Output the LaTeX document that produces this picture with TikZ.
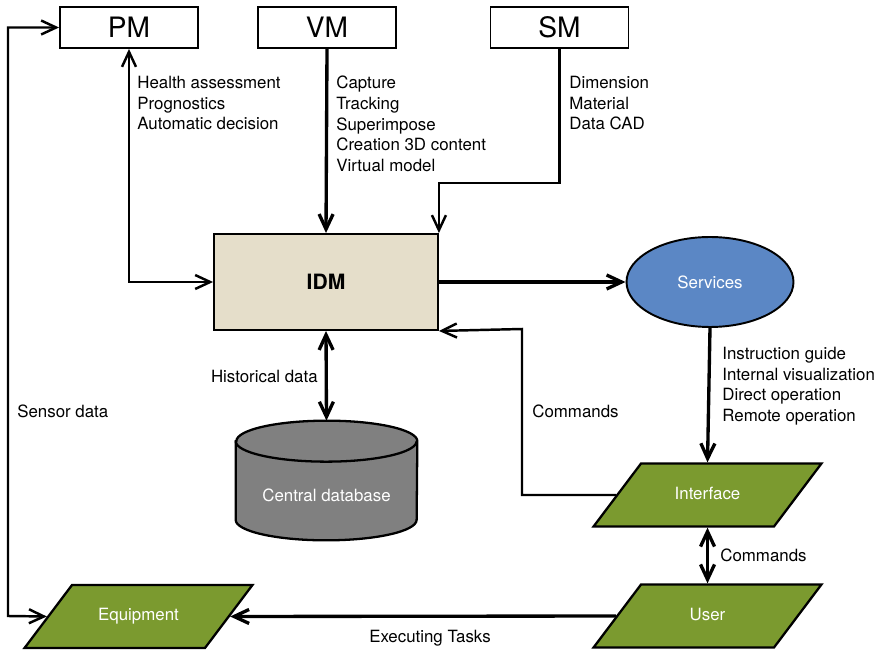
\documentclass[tikz,border=0pt]{standalone}
\usepackage{fontspec}
\setmainfont{TeX Gyre Heros}
\usetikzlibrary{arrows.meta, positioning, shapes.geometric, calc}

\definecolor{idmbeige}{HTML}{E5DECA}
\definecolor{servblue}{HTML}{5B87C5}
\definecolor{iogreen}{HTML}{7B9A2F}
\definecolor{dbgray}{HTML}{808080}

\begin{document}
\begin{tikzpicture}[
    x=0.02cm, y=-0.02cm,
    model/.style={draw, line width=1.1pt, minimum width=2.76cm, minimum height=0.82cm, inner sep=0pt, font=\fontsize{16}{18}\selectfont},
    core/.style={draw, line width=1.1pt, fill=idmbeige, minimum width=4.48cm, minimum height=1.92cm, font=\bfseries\fontsize{12}{14}\selectfont},
    service/.style={draw, ellipse, line width=1.1pt, fill=servblue, text=white, minimum width=3.34cm, minimum height=1.8cm, inner sep=0pt, font=\fontsize{9.6}{11.7}\selectfont},
    io/.style={draw, trapezium, trapezium left angle=53, trapezium right angle=127, line width=1.3pt, fill=iogreen, text=white, text width=1.8cm, align=center, text height=0.24cm, text depth=0.07cm, inner xsep=0.43cm, inner ysep=0.475cm, font=\fontsize{9.6}{11.7}\selectfont},
    store/.style={minimum width=3.62cm, minimum height=2.38cm, inner sep=0pt, text=white, font=\fontsize{9.6}{11.7}\selectfont},
    lbl/.style={inner sep=0pt, align=left, font=\fontsize{9.6}{11.7}\selectfont},
    arrow/.style={-{Straight Barb[length=3mm, width=2.8mm]}, line width=1.9pt},
    thin arrow/.style={-{Straight Barb[length=3mm, width=2.8mm]}, line width=1.4pt},
    both/.style={{Straight Barb[length=3mm, width=2.8mm]}-{Straight Barb[length=3mm, width=2.8mm]}},
]
\useasboundingbox (0,0) rectangle (882,651);

% Models
\node[model] (pm) at (129,27.5) {PM};
\node[model] (vm) at (327,27.5) {VM};
\node[model] (sm) at (559.5,27.5) {SM};

% Core and services
\node[core] (idm) at (326,282) {IDM};
\node[service] (services) at (710,282) {Services};

% Central database (cylinder)
\node[store] (db) at (326.5,480.5) {};
\draw[line width=1.3pt, fill=dbgray] ($(db.north west)+(0,20.5)$) -- ($(db.south west)+(0,-20.5)$)
    arc[start angle=180, end angle=360, x radius=1.81cm, y radius=0.41cm]
    -- ($(db.north east)+(0,20.5)$)
    arc[start angle=0, end angle=180, x radius=1.81cm, y radius=0.41cm] -- cycle;
\draw[line width=1.3pt] ($(db.north west)+(0,20.5)$)
    arc[start angle=180, end angle=360, x radius=1.81cm, y radius=0.41cm];
\node[store, minimum height=0pt] (dbtext) at (326.5,495) {Central database};

% Interface, user, equipment
\node[io] (interface) at (707.5,495) {Interface};
\node[io] (user) at (707.5,616) {User};
\node[io] (equip) at (138.5,616.5) {Equipment};

\coordinate (sensor) at (8,616);
\coordinate (smbend) at (559.5,183);
\coordinate (cmd) at (522,329);

% Arrows
\draw[thin arrow, both] (equip.west) -- (sensor) |- (pm.west);
\draw[thin arrow, both] (pm.south) |- (idm.west);
\draw[arrow] (vm.south) -- (idm.north);
\draw[thin arrow] (sm.south) -- (smbend) -| (idm.north east);
\draw[arrow] (idm.east) -- (services.west);
\draw[arrow] (services.south) -- (interface.north);
\draw[thin arrow] (interface.west) -| (cmd) -- (idm.south east);
\draw[arrow, both] (idm.south) -- (db.north);
\draw[arrow, both] (interface.south) -- (user.north);
\draw[arrow] (user.west) -- (equip.east);

% Labels
\node[lbl, anchor=north west] (pmtext) at (137,76) {Health assessment\\Prognostics\\Automatic decision};
\node[lbl, anchor=north west] (vmtext) at (336,76) {Capture\\Tracking\\Superimpose\\Creation 3D content\\Virtual model};
\node[lbl, anchor=north west] (smtext) at (569,76) {Dimension\\Material\\Data CAD};
\node[lbl, anchor=north west] (servtext) at (722,347) {Instruction guide\\Internal visualization\\Direct operation\\Remote operation};
\node[lbl, anchor=west] (sensortext) at (17,411) {Sensor data};
\node[lbl, anchor=east] (histtext) at (318,376) {Historical data};
\node[lbl, anchor=west] (cmdtext) at (532,411) {Commands};
\node[lbl, anchor=west] (usertext) at (720,555) {Commands};
\node[lbl] (tasktext) at (430,638) {Executing Tasks};

\end{tikzpicture}
\end{document}
